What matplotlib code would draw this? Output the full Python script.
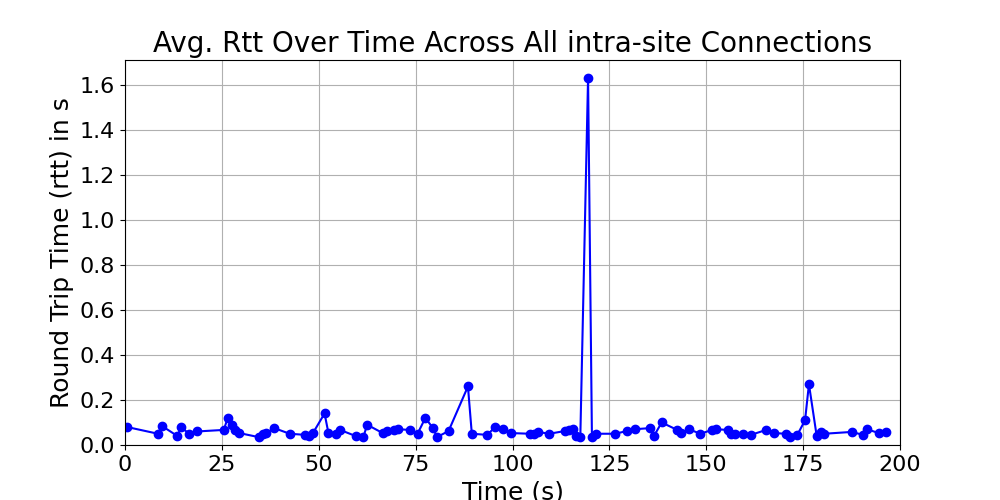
import matplotlib
matplotlib.use("Agg")
import matplotlib.pyplot as plt
from matplotlib.ticker import MultipleLocator

# time stamps (s) and average rtt (s)
time_s = [0.5, 8.5, 9.5, 13.5, 14.5, 16.5, 18.5, 25.5, 26.5, 27.5, 28.5, 29.5,
          34.5, 35.5, 36.5, 38.5, 42.5, 46.5, 47.5, 48.5, 51.5, 52.5, 54.5, 55.5,
          59.5, 61.5, 62.5, 66.5, 67.5, 69.5, 70.5, 73.5, 75.5, 77.5, 79.5, 80.5,
          83.5, 88.5, 89.5, 93.5, 95.5, 97.5, 99.5, 104.5, 105.5, 106.5, 109.5,
          113.5, 114.5, 115.5, 116.5, 117.5, 119.5, 120.5, 121.5, 126.5, 129.5,
          131.5, 135.5, 136.5, 138.5, 142.5, 143.5, 145.5, 148.5, 151.5, 152.5,
          155.5, 156.5, 157.5, 159.5, 161.5, 165.5, 167.5, 170.5, 171.5, 173.5,
          175.5, 176.5, 178.5, 179.5, 180.5, 187.5, 190.5, 191.5, 194.5, 196.5]
avg_rtt = [0.08, 0.05, 0.085, 0.04, 0.08, 0.05, 0.06, 0.067, 0.12, 0.09, 0.067, 0.053,
           0.035, 0.05, 0.053, 0.075, 0.05, 0.045, 0.04, 0.053, 0.14, 0.053, 0.05, 0.067,
           0.04, 0.035, 0.09, 0.053, 0.06, 0.067, 0.07, 0.067, 0.05, 0.12, 0.075, 0.035,
           0.062, 0.26, 0.05, 0.045, 0.08, 0.07, 0.053, 0.05, 0.05, 0.058, 0.05,
           0.062, 0.067, 0.07, 0.04, 0.035, 1.63, 0.035, 0.05, 0.05, 0.062,
           0.07, 0.075, 0.04, 0.1, 0.067, 0.053, 0.07, 0.05, 0.067, 0.07,
           0.067, 0.05, 0.05, 0.05, 0.045, 0.067, 0.053, 0.05, 0.035, 0.045,
           0.11, 0.27, 0.04, 0.058, 0.05, 0.058, 0.045, 0.07, 0.053, 0.058]

fig, ax = plt.subplots(figsize=(10, 5), dpi=100)
ax.plot(time_s, avg_rtt, color='blue', marker='o', linestyle='-')
ax.set_title("Avg. Rtt Over Time Across All intra-site Connections", fontsize=20)
ax.set_xlabel("Time (s)", fontsize=18)
ax.set_ylabel("Round Trip Time (rtt) in s", fontsize=18)
ax.tick_params(labelsize=16)
ax.set_xlim(0, 200)
ax.set_ylim(bottom=0)
ax.yaxis.set_major_locator(MultipleLocator(0.2))
ax.grid(True)
fig.savefig("out.png", dpi=100)
